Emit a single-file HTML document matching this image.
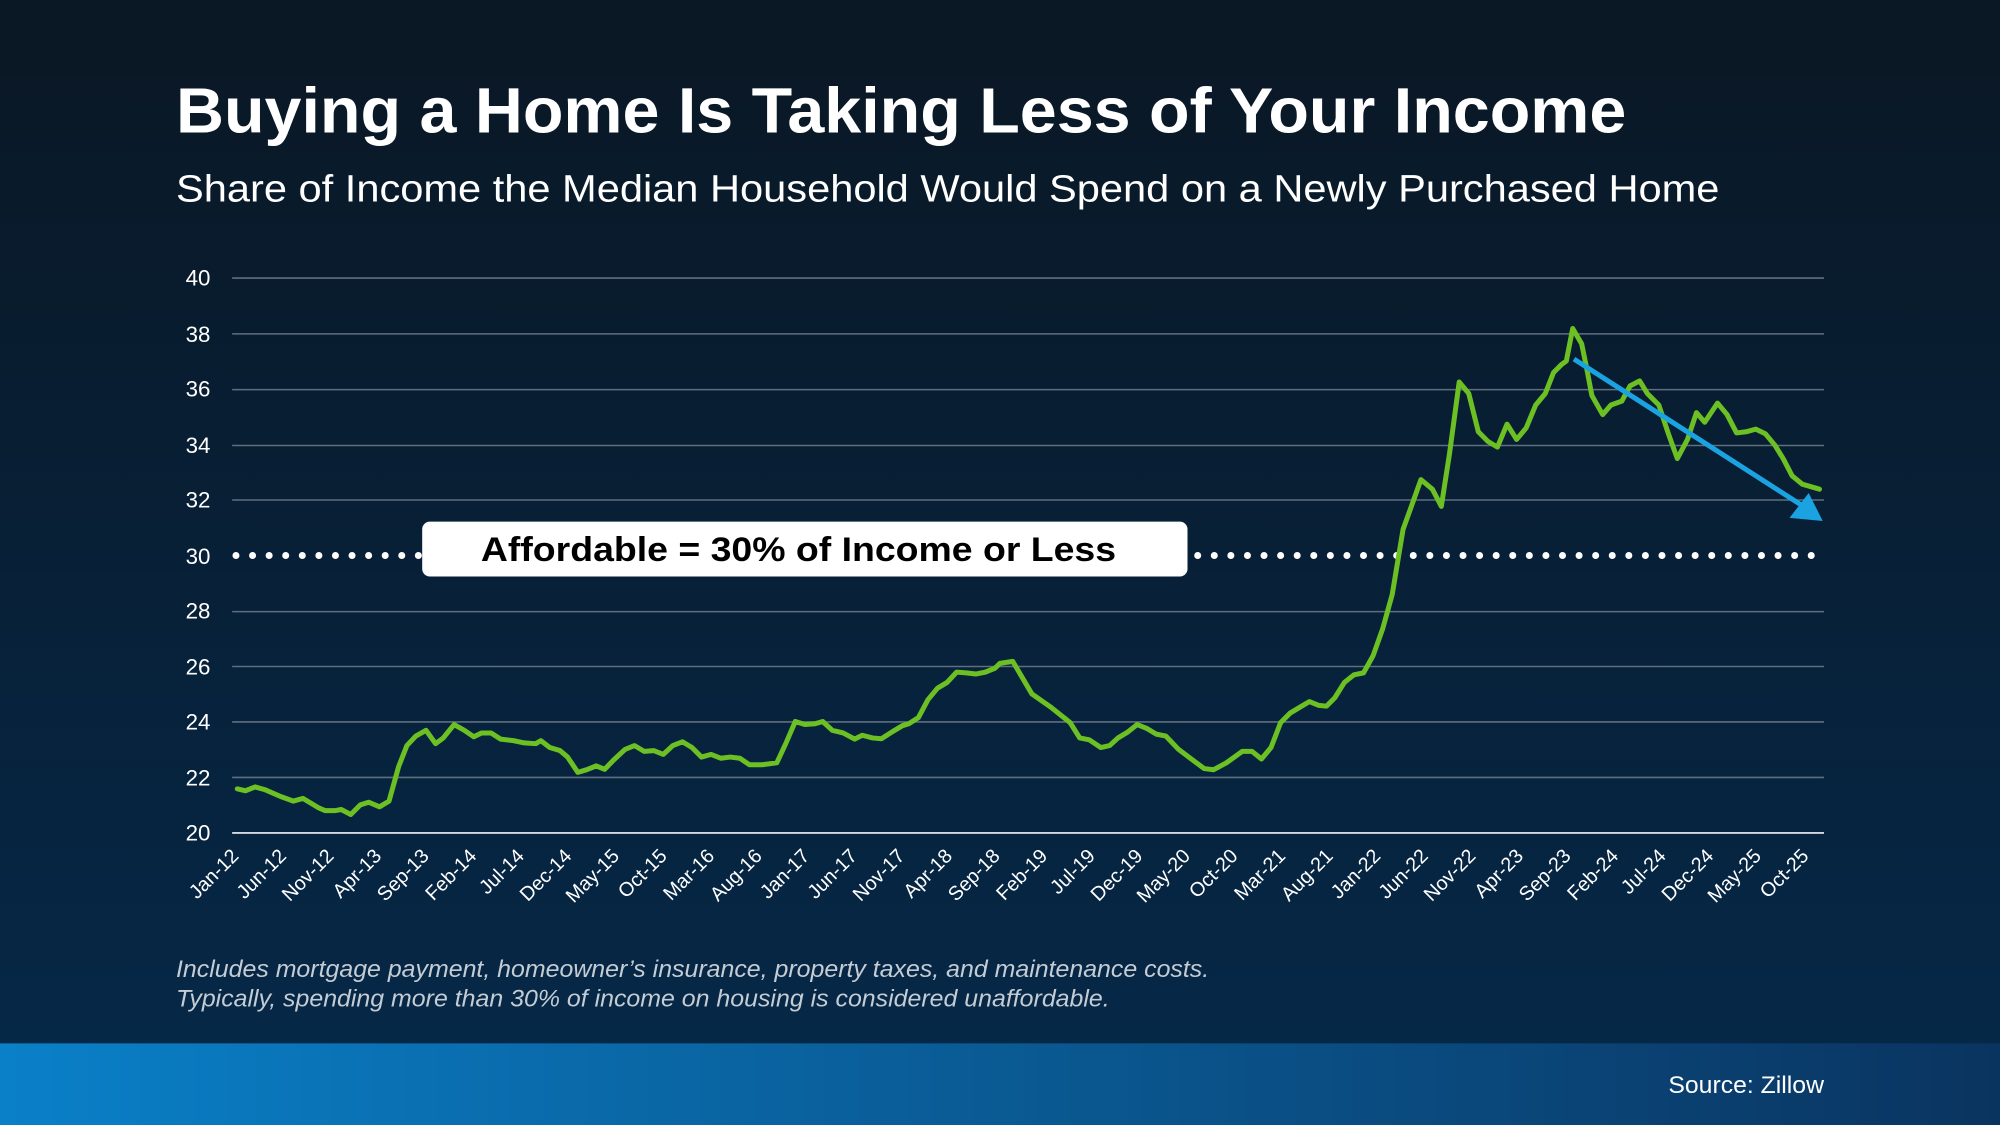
<!DOCTYPE html>
<html><head><meta charset="utf-8"><style>html,body{margin:0;padding:0;background:#0a1a2a}svg{display:block}</style></head>
<body>
<svg width="2000" height="1125" viewBox="0 0 2000 1125" xmlns="http://www.w3.org/2000/svg" font-family="Liberation Sans, Arial, sans-serif">
<defs>
<linearGradient id="bg" x1="0" y1="0" x2="0" y2="1"><stop offset="0" stop-color="#0a1724"/><stop offset="1" stop-color="#05294a"/></linearGradient>
<linearGradient id="band" x1="0" y1="0" x2="1" y2="0"><stop offset="0" stop-color="#0a80c8"/><stop offset="1" stop-color="#0a3460"/></linearGradient>
</defs>
<rect width="2000" height="1125" fill="url(#bg)"/>
<g transform="scale(1.27551)">
<rect x="0" y="818" width="1568" height="64" fill="url(#band)"/>
<text x="1430" y="857" font-size="19" fill="#fff" text-anchor="end" textLength="122" lengthAdjust="spacingAndGlyphs">Source: Zillow</text>
<text x="138" y="104" font-size="50" font-weight="bold" fill="#fff" textLength="1137" lengthAdjust="spacingAndGlyphs">Buying a Home Is Taking Less of Your Income</text>
<text x="138" y="158" font-size="30" fill="#fff" textLength="1210" lengthAdjust="spacingAndGlyphs">Share of Income the Median Household Would Spend on a Newly Purchased Home</text>
<g stroke="#5f6f7e" stroke-width="1.2">
<line x1="182" y1="218" x2="1430" y2="218"/><line x1="182" y1="261.75" x2="1430" y2="261.75"/><line x1="182" y1="305.5" x2="1430" y2="305.5"/><line x1="182" y1="349.25" x2="1430" y2="349.25"/><line x1="182" y1="392" x2="1430" y2="392"/><line x1="182" y1="479.5" x2="1430" y2="479.5"/><line x1="182" y1="522.5" x2="1430" y2="522.5"/><line x1="182" y1="566" x2="1430" y2="566"/><line x1="182" y1="609.5" x2="1430" y2="609.5"/>
</g>
<line x1="182" y1="653" x2="1430" y2="653" stroke="#d0d8e0" stroke-width="1.5"/>
<g font-size="17.5" fill="#fff" text-anchor="end">
<text x="165" y="224">40</text><text x="165" y="268">38</text><text x="165" y="311">36</text><text x="165" y="355">34</text><text x="165" y="398">32</text><text x="165" y="442">30</text><text x="165" y="485">28</text><text x="165" y="529">26</text><text x="165" y="572">24</text><text x="165" y="616">22</text><text x="165" y="659">20</text>
</g>
<line x1="185" y1="435.5" x2="1422" y2="435.5" stroke="#fff" stroke-width="5.5" stroke-linecap="round" stroke-dasharray="0 13"/>
<rect x="331" y="409" width="600" height="43" rx="6" fill="#fff"/>
<text x="626" y="440" font-size="27" font-weight="bold" fill="#000" text-anchor="middle" textLength="498" lengthAdjust="spacingAndGlyphs">Affordable = 30% of Income or Less</text>
<g font-size="15.5" fill="#fff" text-anchor="end">
<text x="188" y="672" transform="rotate(-45 188 672)">Jan-12</text>
<text x="225.3" y="672" transform="rotate(-45 225.3 672)">Jun-12</text>
<text x="262.6" y="672" transform="rotate(-45 262.6 672)">Nov-12</text>
<text x="299.9" y="672" transform="rotate(-45 299.9 672)">Apr-13</text>
<text x="337.2" y="672" transform="rotate(-45 337.2 672)">Sep-13</text>
<text x="374.5" y="672" transform="rotate(-45 374.5 672)">Feb-14</text>
<text x="411.8" y="672" transform="rotate(-45 411.8 672)">Jul-14</text>
<text x="449.1" y="672" transform="rotate(-45 449.1 672)">Dec-14</text>
<text x="486.4" y="672" transform="rotate(-45 486.4 672)">May-15</text>
<text x="523.7" y="672" transform="rotate(-45 523.7 672)">Oct-15</text>
<text x="561" y="672" transform="rotate(-45 561 672)">Mar-16</text>
<text x="598.3" y="672" transform="rotate(-45 598.3 672)">Aug-16</text>
<text x="635.6" y="672" transform="rotate(-45 635.6 672)">Jan-17</text>
<text x="672.9" y="672" transform="rotate(-45 672.9 672)">Jun-17</text>
<text x="710.2" y="672" transform="rotate(-45 710.2 672)">Nov-17</text>
<text x="747.5" y="672" transform="rotate(-45 747.5 672)">Apr-18</text>
<text x="784.8" y="672" transform="rotate(-45 784.8 672)">Sep-18</text>
<text x="822.1" y="672" transform="rotate(-45 822.1 672)">Feb-19</text>
<text x="859.4" y="672" transform="rotate(-45 859.4 672)">Jul-19</text>
<text x="896.7" y="672" transform="rotate(-45 896.7 672)">Dec-19</text>
<text x="934" y="672" transform="rotate(-45 934 672)">May-20</text>
<text x="971.3" y="672" transform="rotate(-45 971.3 672)">Oct-20</text>
<text x="1008.6" y="672" transform="rotate(-45 1008.6 672)">Mar-21</text>
<text x="1045.9" y="672" transform="rotate(-45 1045.9 672)">Aug-21</text>
<text x="1083.2" y="672" transform="rotate(-45 1083.2 672)">Jan-22</text>
<text x="1120.5" y="672" transform="rotate(-45 1120.5 672)">Jun-22</text>
<text x="1157.8" y="672" transform="rotate(-45 1157.8 672)">Nov-22</text>
<text x="1195.1" y="672" transform="rotate(-45 1195.1 672)">Apr-23</text>
<text x="1232.4" y="672" transform="rotate(-45 1232.4 672)">Sep-23</text>
<text x="1269.7" y="672" transform="rotate(-45 1269.7 672)">Feb-24</text>
<text x="1307" y="672" transform="rotate(-45 1307 672)">Jul-24</text>
<text x="1344.3" y="672" transform="rotate(-45 1344.3 672)">Dec-24</text>
<text x="1381.6" y="672" transform="rotate(-45 1381.6 672)">May-25</text>
<text x="1418.9" y="672" transform="rotate(-45 1418.9 672)">Oct-25</text>
</g>
<g font-size="18.5" font-style="italic" fill="#c4ccd4">
<text x="138" y="766" textLength="810" lengthAdjust="spacingAndGlyphs">Includes mortgage payment, homeowner’s insurance, property taxes, and maintenance costs.</text>
<text x="138" y="789" textLength="732" lengthAdjust="spacingAndGlyphs">Typically, spending more than 30% of income on housing is considered unaffordable.</text>
</g>
</g>
<g transform="translate(0,250) scale(0.63776,0.38270)">
<polyline fill="none" stroke="#6cc024" stroke-width="5" stroke-linejoin="round" stroke-linecap="round" vector-effect="non-scaling-stroke" points="372,1408 385,1413 400,1403 415,1410 440,1428 460,1440 475,1433 500,1458 510,1465 525,1465 535,1462 550,1475 565,1450 578,1443 595,1455 610,1440 625,1350 638,1295 652,1270 668,1255 683,1290 695,1275 712,1240 728,1255 743,1272 755,1262 770,1262 785,1278 805,1282 822,1288 840,1290 848,1282 862,1300 878,1308 890,1325 906,1365 920,1358 935,1348 948,1357 962,1333 980,1305 995,1295 1010,1310 1025,1308 1040,1318 1055,1295 1070,1285 1085,1300 1100,1325 1115,1318 1130,1328 1145,1325 1160,1328 1175,1345 1195,1345 1218,1340 1232,1290 1247,1232 1262,1240 1278,1238 1290,1232 1305,1255 1322,1262 1340,1278 1352,1268 1368,1275 1382,1277 1400,1258 1415,1243 1425,1238 1440,1222 1455,1175 1470,1145 1485,1130 1500,1103 1515,1105 1530,1108 1545,1103 1560,1093 1568,1080"/>
</g>
<g transform="translate(1000,250) scale(0.63776,0.38270)">
<polyline fill="none" stroke="#6cc024" stroke-width="5" stroke-linejoin="round" stroke-linecap="round" vector-effect="non-scaling-stroke" points="0,1080 20,1075 50,1160 80,1195 110,1235 125,1275 140,1280 158,1300 172,1295 185,1275 200,1260 215,1240 230,1250 245,1265 260,1270 280,1305 300,1330 320,1355 335,1358 355,1340 380,1310 395,1310 410,1330 425,1300 440,1235 455,1210 470,1195 485,1180 500,1190 512,1192 525,1170 540,1130 555,1110 570,1105 585,1060 600,990 615,900 625,800 632,730 645,670 660,600 678,625 692,670 705,530 720,345 735,375 750,475 765,500 780,515 795,455 810,495 825,465 840,405 855,375 868,320 880,300 888,290 898,205 912,245 920,310 928,380 945,430 958,405 975,395 988,355 1003,342 1015,375 1033,405 1048,480 1062,545 1078,495 1092,425 1105,450 1125,400 1140,430 1155,478 1170,475 1185,468 1200,480 1215,510 1228,545 1242,590 1258,612 1285,625"/>
<line x1="900" y1="285" x2="1258" y2="668" stroke="#1aa3e0" stroke-width="5" vector-effect="non-scaling-stroke"/>
<polygon points="1290,708 1238,700 1268,635" fill="#1aa3e0"/>
</g>
</svg>
</body></html>
